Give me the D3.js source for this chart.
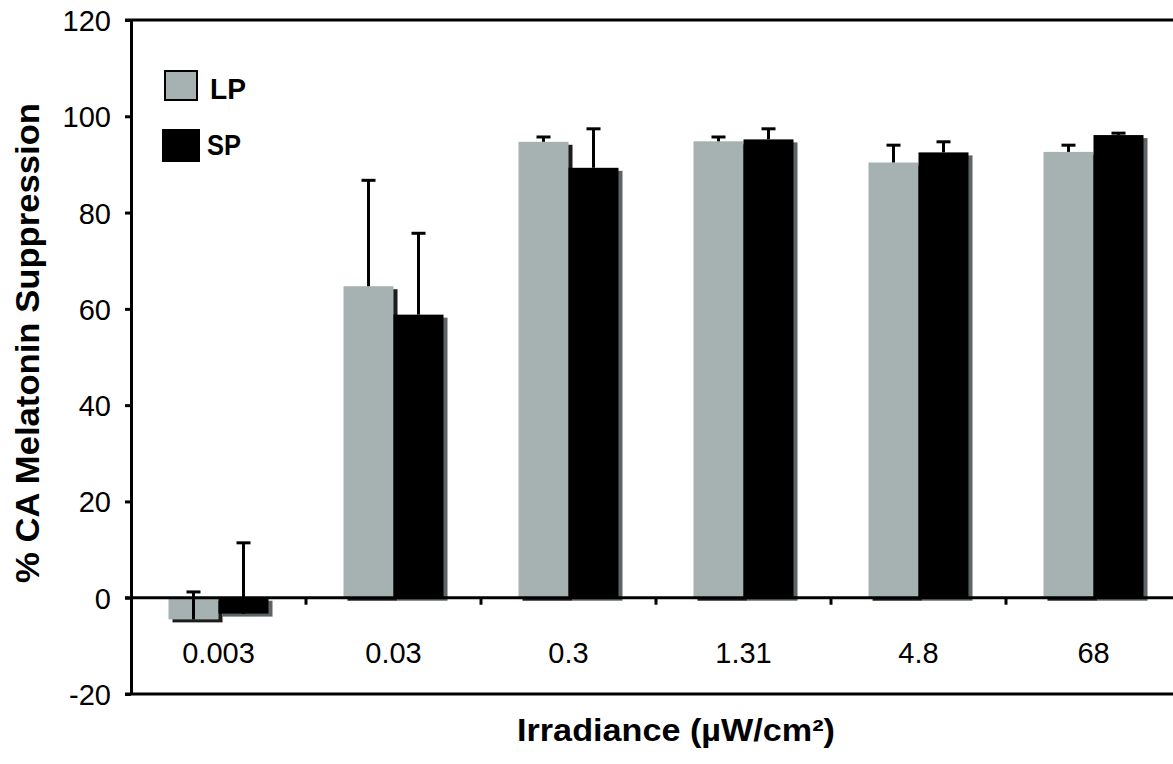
<!DOCTYPE html>
<html><head><meta charset="utf-8">
<script src="https://cdn.jsdelivr.net/npm/d3@7"></script>
<style>body{margin:0;background:#fff}svg{display:block}text{font-family:"Liberation Sans",Arial,Helvetica,sans-serif;fill:#000}</style>
</head><body>
<script>
const categories = ["0.003","0.03","0.3","1.31","4.8","68"];
const seriesNames = ["LP","SP"];
const lpValues = [-4.5, 64.7, 94.7, 94.8, 90.4, 92.6];
const lpErrors = [5.7, 22.0, 1.0, 0.9, 3.6, 1.4];
const spValues = [-3.3, 58.8, 89.3, 95.2, 92.5, 96.1];
const spErrors = [14.7, 16.9, 8.1, 2.2, 2.2, 0.4];
const yTicks = [-20, 0, 20, 40, 60, 80, 100, 120];

const W = 1173, H = 764;
const svg = d3.select("body").append("svg").attr("width", W).attr("height", H);

const x0 = d3.scaleBand().domain(categories).range([131, 1181]).padding(0);
const x1 = d3.scaleBand().domain(seriesNames).range([0, x0.bandwidth()]).paddingInner(0).paddingOuter(0.75);
const y = d3.scaleLinear().domain([-20, 120]).range([694, 20]);

const colors = {LP: "#a5b2b1", SP: "#000000"};
const shadowColors = {LP: "#1c1c1c", SP: "#5f6566"};

const data = [];
categories.forEach((c, i) => {
  data.push({cat: c, s: "LP", v: lpValues[i], e: lpErrors[i]});
  data.push({cat: c, s: "SP", v: spValues[i], e: spErrors[i]});
});

const g = svg.append("g");
data.forEach(d => {
  const bx = x0(d.cat) + x1(d.s);
  const bw = x1.bandwidth();
  const top = y(Math.max(0, d.v)), bot = y(Math.min(0, d.v));
  g.append("rect").attr("x", bx + 4).attr("y", top + 3).attr("width", bw).attr("height", bot - top)
    .attr("fill", shadowColors[d.s]);
  g.append("rect").attr("x", bx).attr("y", top).attr("width", bw).attr("height", bot - top)
    .attr("fill", colors[d.s]);
});

data.forEach(d => {
  const cx = x0(d.cat) + x1(d.s) + x1.bandwidth() / 2;
  g.append("line").attr("x1", cx).attr("x2", cx).attr("y1", y(d.v)).attr("y2", y(d.v + d.e))
    .attr("stroke", "#000").attr("stroke-width", 3);
  g.append("line").attr("x1", cx - 7).attr("x2", cx + 7).attr("y1", y(d.v + d.e)).attr("y2", y(d.v + d.e))
    .attr("stroke", "#000").attr("stroke-width", 3);
});

svg.append("line").attr("x1", 125).attr("x2", W).attr("y1", y(120)).attr("y2", y(120)).attr("stroke", "#000").attr("stroke-width", 3);
svg.append("line").attr("x1", 125).attr("x2", W).attr("y1", y(-20)).attr("y2", y(-20)).attr("stroke", "#000").attr("stroke-width", 3);

const yAxis = svg.append("g").attr("transform", "translate(131,0)")
  .call(d3.axisLeft(y).tickValues(yTicks).tickSize(6).tickSizeOuter(0).tickPadding(14).tickFormat(d => String(d)));
yAxis.select(".domain").attr("stroke-width", 3);
yAxis.selectAll(".tick line").attr("stroke-width", 3);
yAxis.selectAll(".tick text").attr("font-size", 29).attr("font-family", '"Liberation Sans",Arial,sans-serif').attr("dy", "0.36em");

const xAxis = svg.append("g").attr("transform", `translate(0,${y(0)})`)
  .call(d3.axisBottom(x0).tickSize(0).tickPadding(45));
xAxis.select(".domain").attr("d", `M125,0H${W}`).attr("stroke-width", 3);
xAxis.selectAll(".tick text").attr("font-size", 29).attr("font-family", '"Liberation Sans",Arial,sans-serif');
categories.slice(1).forEach(c => {
  svg.append("line").attr("x1", x0(c)).attr("x2", x0(c)).attr("y1", y(0)).attr("y2", y(0) + 7)
    .attr("stroke", "#000").attr("stroke-width", 3);
});

svg.append("text").attr("transform", `translate(39,343) rotate(-90)`).attr("text-anchor", "middle")
  .attr("font-size", 33).attr("font-weight", "bold")
  .attr("textLength", 480).attr("lengthAdjust", "spacingAndGlyphs")
  .text("% CA Melatonin Suppression");
svg.append("text").attr("x", 676).attr("y", 741).attr("text-anchor", "middle")
  .attr("font-size", 31).attr("font-weight", "bold")
  .attr("textLength", 318).attr("lengthAdjust", "spacingAndGlyphs")
  .text("Irradiance (µW/cm²)");

const leg = [{s: "LP", rx: 165, ry: 71, w: 32, h: 29, tx: 210, ty: 99},
             {s: "SP", rx: 163, ry: 130, w: 36, h: 31, tx: 207, ty: 155}];
leg.forEach(l => {
  svg.append("rect").attr("x", l.rx).attr("y", l.ry).attr("width", l.w).attr("height", l.h)
    .attr("fill", colors[l.s]).attr("stroke", "#000").attr("stroke-width", 2);
  svg.append("text").attr("x", l.tx).attr("y", l.ty).attr("font-size", 29).attr("font-weight", "bold")
    .attr("textLength", l.s === "LP" ? 36 : 34).attr("lengthAdjust", "spacingAndGlyphs").text(l.s);
});
</script>
</body></html>
